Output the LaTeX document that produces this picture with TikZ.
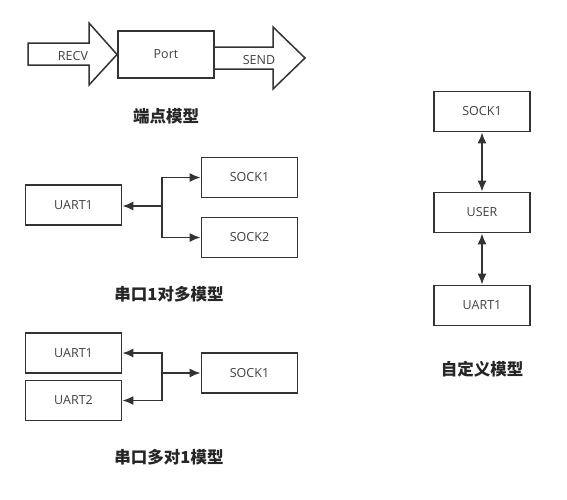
\documentclass[tikz,border=0pt]{standalone}
\usepackage{fontspec}
\setmainfont{Open Sans}
\newfontfamily\cjk{Noto Sans CJK SC}
\usetikzlibrary{arrows.meta}
\definecolor{ln}{HTML}{333333}
\definecolor{tx}{HTML}{404040}
\begin{document}
\begin{tikzpicture}[x=1pt,y=-1pt,
  box/.style={draw=ln,line width=1.9pt,minimum width=96pt,minimum height=40pt,inner sep=0pt,text=tx,font=\fontsize{12.5}{14}\selectfont},
  lbl/.style={font=\cjk\bfseries\fontsize{16.5}{18}\selectfont,text=black!85},
  con/.style={draw=ln,line width=1.4pt,-{Latex[length=11pt,width=9pt]}},
  dcon/.style={draw=ln,line width=1.4pt,{Latex[length=11pt,width=9pt]}-{Latex[length=11pt,width=9pt]}},
  big/.style={draw=ln,line width=1.5pt,fill=white,line join=miter}]
\useasboundingbox (0,0) rectangle (567,499);
% top: endpoint model
\draw[big] (28,43) -- (89,43) -- (89,23) -- (117,54.5) -- (89,85) -- (89,65) -- (28,65) -- cycle;
\draw[big] (214,47) -- (273,47) -- (273,27) -- (305,58) -- (273,89) -- (273,69) -- (214,69);
\node[box,minimum width=96pt,minimum height=47pt] (port) at (166,54.5) {Port};
\node[text=tx,font=\fontsize{12.5}{14}\selectfont] (recv) at (73,56) {RECV};
\node[text=tx,font=\fontsize{12.5}{14}\selectfont] (send) at (259,60) {SEND};
\node[lbl] (l1) at (166,116) {端点模型};
% middle: one-to-many
\node[box] (ma) at (73.5,205) {UART1};
\node[box] (ms1) at (249.5,177.5) {SOCK1};
\node[box] (ms2) at (249.5,237.5) {SOCK2};
\coordinate (mj) at (162,206);
\draw[con] (mj) -- (ma.east |- mj);
\draw[con] (mj) |- (ms1.west);
\draw[con] (mj) |- (ms2.west);
\node[lbl] (l2) at (169,294) {串口1对多模型};
% bottom: many-to-one
\node[box] (ba1) at (73.5,353) {UART1};
\node[box] (ba2) at (73.5,400.5) {UART2};
\node[box] (bs) at (249.5,373) {SOCK1};
\coordinate (bj) at (162,373);
\draw[con] (bj) -- (bs.west);
\draw[con] (bj) |- (ba1.east);
\draw[con] (bj) |- (ba2.east);
\node[lbl] (l3) at (169,457) {串口多对1模型};
% right: custom
\node[box] (rs) at (482,111.5) {SOCK1};
\node[box] (ru) at (482,212.5) {USER};
\node[box] (ra) at (482,305.5) {UART1};
\draw[dcon] (rs) -- (ru);
\draw[dcon] (ru) -- (ra);
\node[lbl] (l4) at (482,369) {自定义模型};
\end{tikzpicture}
\end{document}
